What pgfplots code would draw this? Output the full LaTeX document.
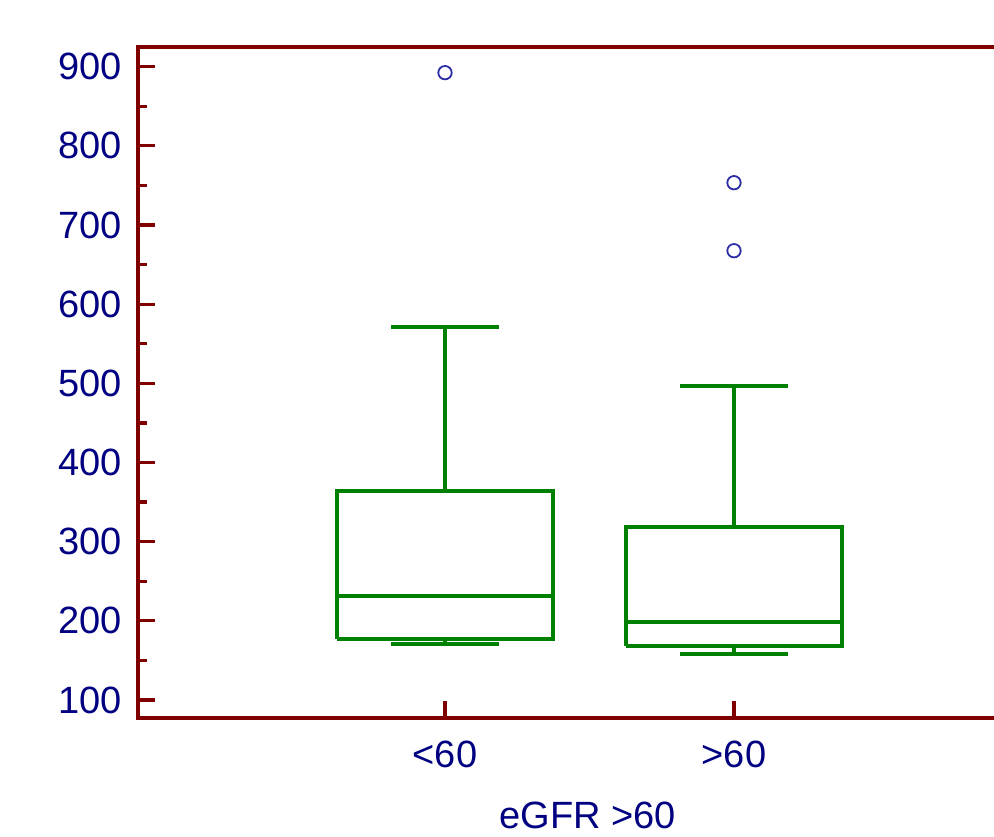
\documentclass[border=0pt]{standalone}
\usepackage{pgfplots}
\pgfplotsset{compat=1.18}
\usepackage{fontspec}
\setmainfont{Liberation Sans}
\definecolor{axred}{RGB}{128,0,0}
\definecolor{boxgreen}{RGB}{0,128,0}
\definecolor{txtblue}{RGB}{0,0,128}
\definecolor{outblue}{RGB}{45,45,165}
\pgfplotsset{boxline/.style={draw=boxgreen, line width=4.2bp, mark=none, solid, line join=miter}}
\begin{document}
\begin{tikzpicture}
\begin{axis}[
  scale only axis,
  width=862bp, height=671.6bp,
  xmin=-0.0623, xmax=2.9204,
  ymin=76.9, ymax=925.2,
  axis line style={draw=axred, line width=3.8bp},
  xtick={1,2}, xticklabels={{<60},{>60}},
  ytick={100,200,...,900},
  minor y tick num=1,
  xtick pos=bottom, ytick pos=left,
  tick align=inside,
  major tick length=17bp, minor tick length=9bp,
  tick style={draw=axred, line width=3.2bp},
  /pgf/number format/assume math mode=true,
  ticklabel style={font=\fontsize{38bp}{45bp}\selectfont, text=txtblue},
  yticklabel style={xshift=-13bp},
  xticklabel style={yshift=-19bp},
  xlabel={eGFR >60},
  xlabel style={font=\fontsize{38bp}{45bp}\selectfont, text=txtblue, at={(axis description cs:0.522,0)}, anchor=base, yshift=-110bp},
]
% group <60 (x=1): lw 170.4, q1 177.5, med 231.4, q3 363.6, uw 571.5
\addplot[boxline] coordinates {(0.6265,177.5) (1.3735,177.5) (1.3735,363.6) (0.6265,363.6) (0.6265,177.5)};
\addplot[boxline] coordinates {(0.6265,231.4) (1.3735,231.4)};
\addplot[boxline] coordinates {(1,363.6) (1,571.5)};
\addplot[boxline] coordinates {(0.813,571.5) (1.187,571.5)};
\addplot[boxline] coordinates {(1,177.5) (1,170.4)};
\addplot[boxline] coordinates {(0.813,170.4) (1.187,170.4)};
% group >60 (x=2): lw 158.1, q1 168.2, med 198.9, q3 318.9, uw 496.6
\addplot[boxline] coordinates {(1.6265,168.2) (2.3735,168.2) (2.3735,318.9) (1.6265,318.9) (1.6265,168.2)};
\addplot[boxline] coordinates {(1.6265,198.9) (2.3735,198.9)};
\addplot[boxline] coordinates {(2,318.9) (2,496.6)};
\addplot[boxline] coordinates {(1.813,496.6) (2.187,496.6)};
\addplot[boxline] coordinates {(2,168.2) (2,158.1)};
\addplot[boxline] coordinates {(1.813,158.1) (2.187,158.1)};
% outliers
\addplot[only marks, mark=o, mark size=6.7bp,
  mark options={draw=outblue, line width=1.8bp, fill=none}]
  coordinates {(1,892.4) (2,753.4) (2,667.5)};
\end{axis}
\pgfresetboundingbox
\path[use as bounding box] (-138bp,-118.7bp) rectangle (856bp,718.3bp);
\end{tikzpicture}
\end{document}
